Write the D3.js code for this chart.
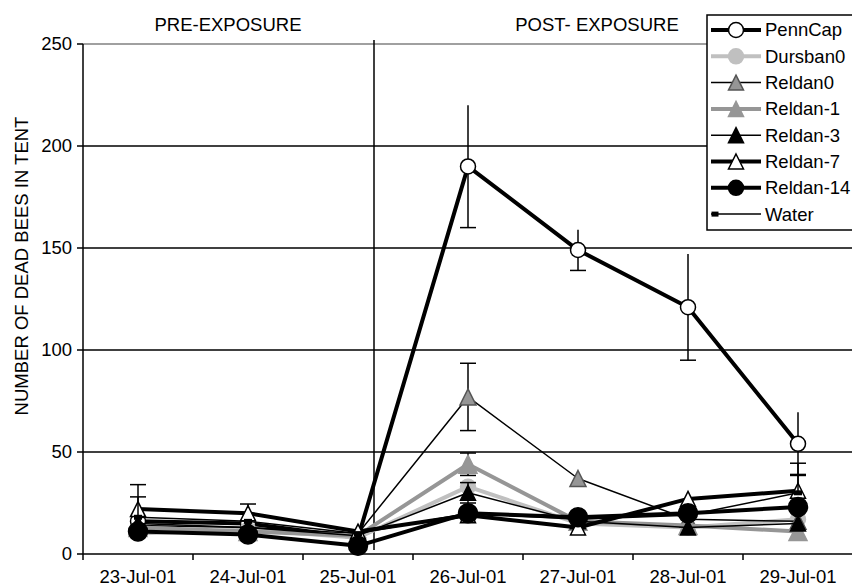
<!DOCTYPE html>
<html>
<head>
<meta charset="utf-8">
<script src="https://cdn.jsdelivr.net/npm/d3@7/dist/d3.min.js"></script>
<style>
  html, body { margin: 0; padding: 0; background: #fff; }
  svg { display: block; font-family: "Liberation Sans", Arial, sans-serif; }
</style>
</head>
<body>
<svg id="chart" width="852" height="588"></svg>
<script>
// Daily dead-bee counts per tent, before and after pesticide exposure
const dates = ["23-Jul-01", "24-Jul-01", "25-Jul-01", "26-Jul-01", "27-Jul-01", "28-Jul-01", "29-Jul-01"];
const yTicks = [0, 50, 100, 150, 200, 250];

const pennCap   = [16, 15, 8, 190, 149, 121, 54];
const dursban0  = [10, 12, 8, 33, 15, 13, 17];
const reldan0   = [14, 13, 10, 77, 37, 17, 16];
const reldan1   = [13, 11, 9, 44, 16, 14, 11];
const reldan3   = [15, 13, 9, 30, 16, 13, 15];
const reldan7   = [22, 20, 11, 19, 13, 27, 31];
const reldan14  = [11, 9.5, 4, 20, 18, 20, 23];
const water     = [18, 16, 10, 20, 17, 19, 30];

// Standard errors (null = no bar drawn)
const pennCapErr  = [null, null, null, 30, 10, 26, 15.5];
const reldan0Err  = [null, null, null, 16.5, null, null, null];
const reldan1Err  = [null, null, null, 5.5, null, null, null];
const reldan3Err  = [null, null, null, 5, null, null, null];
const reldan7ErrUp = [12, 4.5, null, null, null, null, 8];
const waterErrUp   = [10, null, null, null, null, null, 14.5];

// errMode: "both" = capped both ends, "up" = plus side only, "lowCap" = both sides, cap on minus end
const series = [
  { name: "PennCap",   values: pennCap,  err: pennCapErr,   errMode: "lowCap", line: "#000", lw: 4,   marker: "circle",   fill: "#fff", stroke: "#000", size: 15 },
  { name: "Dursban0",  values: dursban0, err: null,         errMode: "both",   line: "#c0c0c0", lw: 4, marker: "circle", fill: "#c0c0c0", stroke: "#c0c0c0", size: 15 },
  { name: "Reldan0",   values: reldan0,  err: reldan0Err,   errMode: "both",   line: "#000", lw: 1.5, marker: "triangle", fill: "#969696", stroke: "#555", size: 16 },
  { name: "Reldan-1",  values: reldan1,  err: reldan1Err,   errMode: "both",   line: "#969696", lw: 4, marker: "triangle", fill: "#969696", stroke: "#969696", size: 18 },
  { name: "Reldan-3",  values: reldan3,  err: reldan3Err,   errMode: "both",   line: "#000", lw: 1.5, marker: "triangle", fill: "#000", stroke: "#000", size: 15 },
  { name: "Reldan-7",  values: reldan7,  err: reldan7ErrUp, errMode: "up",     line: "#000", lw: 4,   marker: "triangle", fill: "#fff", stroke: "#000", size: 15 },
  { name: "Reldan-14", values: reldan14, err: null,         errMode: "both",   line: "#000", lw: 4,   marker: "circle",   fill: "#000", stroke: "#000", size: 19 },
  { name: "Water",     values: water,    err: waterErrUp,   errMode: "up",     line: "#000", lw: 1.5, marker: "dash",     fill: "#000", stroke: "#000", size: 8 }
];

const svg = d3.select("#chart");
const plotLeft = 83, plotRight = 853, plotTop = 44, plotBottom = 554;
const fontSize = 18.5;

const x = d3.scalePoint().domain(dates).range([plotLeft, plotRight]).padding(0.5);
const y = d3.scaleLinear().domain([0, 250]).range([plotBottom, plotTop]);
const step = x.step();

// Horizontal gridlines
svg.append("g").selectAll("line")
  .data(yTicks.filter(t => t > 0))
  .join("line")
  .attr("x1", plotLeft).attr("x2", plotRight)
  .attr("y1", d => y(d)).attr("y2", d => y(d))
  .attr("stroke", d => d === 250 ? "#808080" : "#000")
  .attr("stroke-width", 1.5);

// Divider between pre- and post-exposure periods
svg.append("line")
  .attr("x1", x("25-Jul-01") + 16).attr("x2", x("25-Jul-01") + 16)
  .attr("y1", 40).attr("y2", 550)
  .attr("stroke", "#000").attr("stroke-width", 1.5);

// Y axis
const yAxis = svg.append("g");
yAxis.append("line").attr("x1", plotLeft).attr("x2", plotLeft).attr("y1", plotTop).attr("y2", plotBottom)
  .attr("stroke", "#000").attr("stroke-width", 1.5);
yAxis.selectAll("line.tick").data(yTicks).join("line").attr("class", "tick")
  .attr("x1", plotLeft - 6).attr("x2", plotLeft).attr("y1", d => y(d)).attr("y2", d => y(d))
  .attr("stroke", "#000").attr("stroke-width", 1.5);
yAxis.selectAll("text").data(yTicks).join("text")
  .attr("x", plotLeft - 11).attr("y", d => y(d)).attr("dy", "0.35em")
  .attr("text-anchor", "end").attr("font-size", fontSize).attr("fill", "#000")
  .text(d => d);

// X axis
const xAxis = svg.append("g");
xAxis.append("line").attr("x1", plotLeft).attr("x2", plotRight).attr("y1", plotBottom).attr("y2", plotBottom)
  .attr("stroke", "#000").attr("stroke-width", 1.5);
xAxis.selectAll("line.tick").data(d3.range(dates.length + 1)).join("line").attr("class", "tick")
  .attr("x1", i => plotLeft + i * step).attr("x2", i => plotLeft + i * step)
  .attr("y1", plotBottom).attr("y2", plotBottom + 6)
  .attr("stroke", "#000").attr("stroke-width", 1.5);
xAxis.selectAll("text").data(dates).join("text")
  .attr("x", d => x(d)).attr("y", 583)
  .attr("text-anchor", "middle").attr("font-size", fontSize).attr("fill", "#000")
  .text(d => d);

// Axis title
svg.append("text")
  .attr("transform", "translate(28, 266) rotate(-90)")
  .attr("text-anchor", "middle").attr("font-size", fontSize).attr("fill", "#000")
  .text("NUMBER OF DEAD BEES IN TENT");

// Period labels
svg.append("text").attr("x", 228).attr("y", 31).attr("text-anchor", "middle")
  .attr("font-size", fontSize).attr("fill", "#000").text("PRE-EXPOSURE");
svg.append("text").attr("x", 597).attr("y", 31).attr("text-anchor", "middle")
  .attr("font-size", fontSize).attr("fill", "#000").text("POST- EXPOSURE");

function drawMarker(g, s, cx, cy) {
  const h = s.size;
  if (s.marker === "circle") {
    g.append("circle").attr("cx", cx).attr("cy", cy).attr("r", h / 2)
      .attr("fill", s.fill).attr("stroke", s.stroke).attr("stroke-width", 1.5);
  } else if (s.marker === "triangle") {
    const pts = [[cx, cy - h / 2], [cx + h / 2, cy + h / 2], [cx - h / 2, cy + h / 2]];
    g.append("path").attr("d", "M" + pts.join("L") + "Z")
      .attr("fill", s.fill).attr("stroke", s.stroke).attr("stroke-width", 1.5)
      .attr("stroke-linejoin", "miter");
  } else {
    g.append("rect").attr("x", cx - h / 2).attr("y", cy - 2.5).attr("width", h).attr("height", 5)
      .attr("fill", s.fill);
  }
}

function cap(g, cx, v) {
  g.append("line").attr("x1", cx - 8).attr("x2", cx + 8).attr("y1", y(v)).attr("y2", y(v))
    .attr("stroke", "#000").attr("stroke-width", 1.5);
}

const line = d3.line().x((d, i) => x(dates[i])).y(d => y(d));
const plot = svg.append("g");

series.forEach(s => {
  const g = plot.append("g");
  // error bars
  if (s.err) {
    s.err.forEach((e, i) => {
      if (e == null) return;
      const cx = x(dates[i]);
      const v = s.values[i];
      const lo = s.errMode === "up" ? v : v - e;
      const hi = v + e;
      g.append("line").attr("x1", cx).attr("x2", cx).attr("y1", y(lo)).attr("y2", y(hi))
        .attr("stroke", "#000").attr("stroke-width", 1.5);
      if (s.errMode === "both") { cap(g, cx, lo); cap(g, cx, hi); }
      else if (s.errMode === "up") { cap(g, cx, hi); }
      else { cap(g, cx, lo); }
    });
  }
  g.append("path").attr("d", line(s.values)).attr("fill", "none")
    .attr("stroke", s.line).attr("stroke-width", s.lw).attr("stroke-linejoin", "round");
  s.values.forEach((v, i) => drawMarker(g, s, x(dates[i]), y(v)));
});

// Legend
const lg = svg.append("g");
const lgX = 707, lgY = 15, lgW = 150, lgH = 215, rowH = 26.3;
lg.append("rect").attr("x", lgX).attr("y", lgY).attr("width", lgW).attr("height", lgH)
  .attr("fill", "#fff").attr("stroke", "#000").attr("stroke-width", 1.5);
series.forEach((s, i) => {
  const cy = lgY + 15 + i * rowH;
  lg.append("line").attr("x1", lgX + 4).attr("x2", lgX + 54).attr("y1", cy).attr("y2", cy)
    .attr("stroke", s.line).attr("stroke-width", s.lw);
  drawMarker(lg, s.marker === "dash" ? { ...s, size: 7 } : { ...s, size: Math.min(s.size, 15) },
    s.marker === "dash" ? lgX + 8 : lgX + 29, cy);
  lg.append("text").attr("x", lgX + 58).attr("y", cy).attr("dy", "0.35em")
    .attr("font-size", fontSize).attr("fill", "#000").text(s.name);
});
</script>
</body>
</html>
